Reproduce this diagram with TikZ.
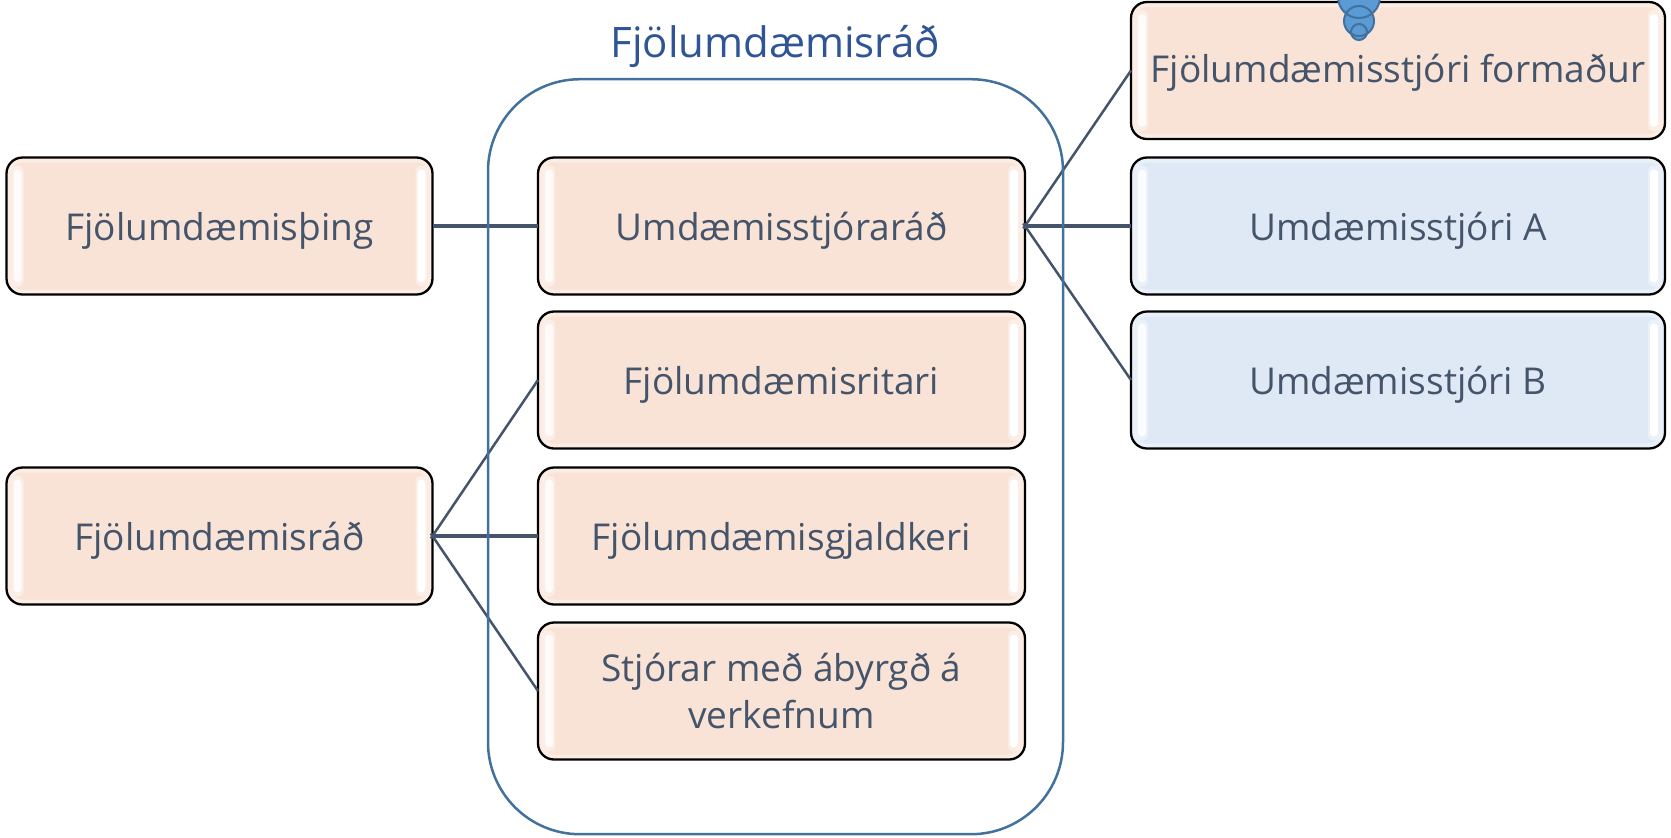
\documentclass[tikz,border=0pt]{standalone}
\usepackage{fontspec}
\setmainfont{Open Sans}
\definecolor{boxpeach}{HTML}{F9E3D6}
\definecolor{boxblue}{HTML}{DEE9F5}
\definecolor{slate}{HTML}{44546A}
\definecolor{panelblue}{HTML}{41719C}
\definecolor{titleblue}{HTML}{2F5597}
\definecolor{blobblue}{HTML}{5B9BD5}
\newcommand{\bb}{path picture bounding box}
\tikzset{
	glossbox/.style={draw=black,line width=1.15pt,rounded corners=8pt,minimum height=68.5pt,outer sep=0pt,
		text=slate,align=center,font=\fontsize{18.5}{23.5}\selectfont,text depth=0pt,
		path picture={
			\draw[white,opacity=.35,line width=5pt] (\bb.north west) rectangle (\bb.south east);
			\fill[white,opacity=.4,rounded corners=2.5pt] ([xshift=2.5pt,yshift=-4pt]\bb.north west) rectangle ([xshift=8.5pt,yshift=4pt]\bb.south west);
			\fill[white,opacity=.8,rounded corners=2pt] ([xshift=3.5pt,yshift=-6pt]\bb.north west) rectangle ([xshift=7.5pt,yshift=6pt]\bb.south west);
			\fill[white,opacity=.4,rounded corners=2.5pt] ([xshift=-2.5pt,yshift=-4pt]\bb.north east) rectangle ([xshift=-8.5pt,yshift=4pt]\bb.south east);
			\fill[white,rounded corners=2pt] ([xshift=-3.5pt,yshift=-6pt]\bb.north east) rectangle ([xshift=-7.5pt,yshift=6pt]\bb.south east);}},
	peach/.style={glossbox,fill=boxpeach},
	sky/.style={glossbox,fill=boxblue},
	link/.style={draw=slate,line width=1.25pt,shorten <=-1.5pt},
	trunk/.style={draw=slate,line width=2pt}
}
\begin{document}
\begin{tikzpicture}[x=0.5pt,y=-0.5pt]
	\useasboundingbox (0,0) rectangle (1671,837);
	% left column
	\node[peach,minimum width=213pt] (thing) at (219.5,226) {Fjölumdæmisþing};
	\node[peach,minimum width=213pt] (rad) at (219.5,536) {Fjölumdæmisráð};
	% middle column
	\node[peach,minimum width=243.5pt] (umd) at (781.5,226) {Umdæmisstjóraráð};
	\node[peach,minimum width=243.5pt] (ritari) at (781.5,380) {Fjölumdæmisritari};
	\node[peach,minimum width=243.5pt] (gjald) at (781.5,536) {Fjölumdæmisgjaldkeri};
	\node[peach,minimum width=243.5pt] (verk) at (781.5,691) {Stjórar með ábyrgð á\\verkefnum};
	% right column
	\node[peach,minimum width=267pt,text depth=2pt] (form) at (1398,70.5) {Fjölumdæmisstjóri formaður};
	\node[sky,minimum width=267pt] (stjA) at (1398,226) {Umdæmisstjóri A};
	\node[sky,minimum width=267pt] (stjB) at (1398,380) {Umdæmisstjóri B};
	% connectors
	\draw[trunk] (thing.east) -- (umd.west);
	\draw[trunk] (rad.east) -- (gjald.west);
	\draw[trunk] (umd.east) -- (stjA.west);
	\foreach \to in {ritari,verk}
		\draw[link] (rad.east) -- (\to.west);
	\foreach \to in {form,stjB}
		\draw[link] (umd.east) -- (\to.west);
	% panel
	\node[draw=panelblue,line width=1.25pt,rounded corners=46pt,minimum width=287.5pt,minimum height=377.5pt,outer sep=0pt] (panel) at (775.5,456.7) {};
	\node[text=titleblue,font=\fontsize{21}{25}\selectfont] (title) at (775,46) {Fjölumdæmisráð};
	% blob
	\begin{scope}
		\clip (0,0) rectangle (1671,837);
		\foreach \cy/\r in {-3/10.5pt,21/7.5pt,32/4pt}
			\fill[blobblue] (1359,\cy) circle (\r);
		\foreach \cy/\r in {-3/10.5pt,21/7.5pt,32/4pt}
			\draw[panelblue,line width=1pt] (1359,\cy) circle (\r);
	\end{scope}
\end{tikzpicture}
\end{document}
